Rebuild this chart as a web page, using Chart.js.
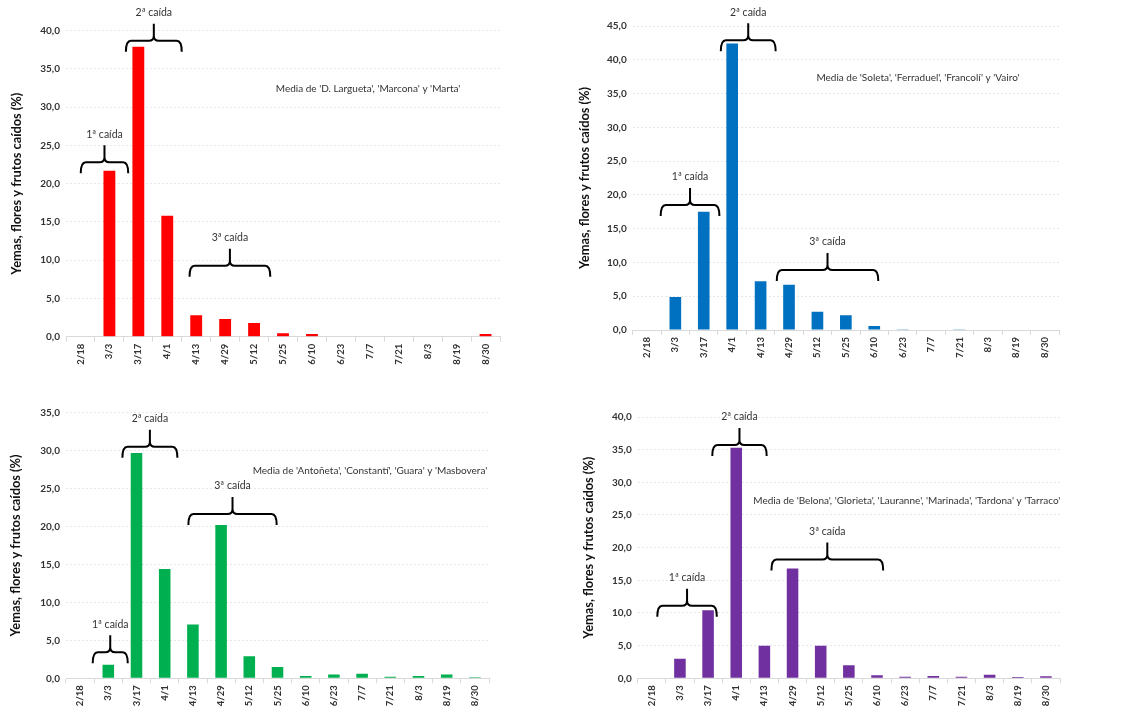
<!DOCTYPE html>
<html>
<head>
<meta charset="utf-8">
<script src="https://cdn.jsdelivr.net/npm/chart.js@4"></script>
<style>
  body { margin: 0; background: #fff; }
  #wrap { position: relative; width: 1127px; height: 721px; }
  canvas { position: absolute; }
</style>
</head>
<body>
<div id="wrap">
  <canvas id="c1"></canvas>
  <canvas id="c2"></canvas>
  <canvas id="c3"></canvas>
  <canvas id="c4"></canvas>
</div>
<script>
// fechas de muestreo
const fechas = ['2/18', '3/3', '3/17', '4/1', '4/13', '4/29', '5/12', '5/25', '6/10', '6/23', '7/7', '7/21', '8/3', '8/19', '8/30'];

// % caída por grupo de variedades
const grupo1 = [0, 21.7, 37.9, 15.8, 2.8, 2.3, 1.8, 0.45, 0.35, 0, 0, 0, 0, 0, 0.35];
const grupo2 = [0, 4.9, 17.5, 42.4, 7.2, 6.7, 2.7, 2.2, 0.6, 0.1, 0, 0.05, 0, 0, 0];
const grupo3 = [0, 1.8, 29.7, 14.4, 7.1, 20.2, 2.9, 1.5, 0.3, 0.5, 0.6, 0.2, 0.3, 0.5, 0.13];
const grupo4 = [0, 3.0, 10.4, 35.3, 5.0, 16.8, 5.0, 2.0, 0.45, 0.25, 0.35, 0.25, 0.55, 0.2, 0.3];

const yMaximos = [40, 45, 35, 40];
const notas = [
  "Media de 'D. Largueta', 'Marcona' y 'Marta'",
  "Media de 'Soleta', 'Ferraduel', 'Francolí' y 'Vairo'",
  "Media de 'Antoñeta', 'Constantí', 'Guara' y 'Masbovera'",
  "Media de 'Belona', 'Glorieta', 'Lauranne', 'Marinada', 'Tardona' y 'Tarraco'"
];
const caidas = ['1ª caída', '2ª caída', '3ª caída'];
const tituloY = 'Yemas, flores y frutos caídos (%)';

Chart.defaults.font.family = 'Lato, "Open Sans", sans-serif';

// llaves: [desde, hasta, y] en índice de categoría / valor
const paneles = [
  { id: 'c1', left: 0, top: 0, w: 520, h: 372, datos: grupo1, color: '#FF0000',
    padTop: 30.7, padRight: 20, yW: 66, xH: 35.3, titPad: 10,
    nota: [9.94, 32.4],
    llaves: [[0.01, 1.65, 22.8], [1.57, 3.5, 38.7], [3.77, 6.56, 9.28]] },
  { id: 'c2', left: 560, top: 0, w: 567, h: 372, datos: grupo2, color: '#0070C0',
    padTop: 26, padRight: 68, yW: 72.7, xH: 42, titPad: 18,
    nota: [9.54, 37.4],
    llaves: [[0.485, 2.55, 18.5], [2.6, 4.53, 42.9], [4.57, 8.14, 8.9]] },
  { id: 'c3', left: 0, top: 360, w: 520, h: 361, datos: grupo3, color: '#00B050',
    padTop: 52.7, padRight: 31, yW: 66, xH: 42.7, titPad: 9,
    nota: [10.28, 27.35],
    llaves: [[0.447, 1.69, 3.43], [1.5, 3.45, 30.5], [3.84, 6.97, 21.65]] },
  { id: 'c4', left: 560, top: 360, w: 567, h: 361, datos: grupo4, color: '#7030A0',
    padTop: 57, padRight: 67, yW: 77.7, xH: 42.7, titPad: 22,
    nota: [9.06, 27.15],
    llaves: [[0.196, 2.31, 11.1], [2.15, 4.08, 35.7], [4.25, 8.22, 18.2]] }
];

// dibuja las llaves y los textos
const anotaciones = {
  id: 'anotaciones',
  afterDatasetsDraw(chart, args, opts) {
    const p = opts.panel;
    const ctx = chart.ctx;
    const xs = chart.scales.x, ys = chart.scales.y;
    ctx.save();
    ctx.strokeStyle = '#000';
    ctx.lineWidth = 2;
    ctx.fillStyle = '#333';
    ctx.font = '10.5px Lato, "Open Sans", sans-serif';
    ctx.textAlign = 'center';
    ctx.textBaseline = 'middle';
    p.llaves.forEach((l, i) => {
      const x0 = xs.getPixelForValue(l[0]);
      const x1 = xs.getPixelForValue(l[1]);
      const y = ys.getPixelForValue(l[2]);
      const xm = (x0 + x1) / 2;
      const r = 5, caida = 11, punta = 17;
      ctx.beginPath();
      ctx.moveTo(x0, y + caida);
      ctx.quadraticCurveTo(x0, y, x0 + r, y);
      ctx.lineTo(xm - r, y);
      ctx.quadraticCurveTo(xm, y, xm, y - r);
      ctx.lineTo(xm, y - punta);
      ctx.moveTo(xm, y - r);
      ctx.quadraticCurveTo(xm, y, xm + r, y);
      ctx.lineTo(x1 - r, y);
      ctx.quadraticCurveTo(x1, y, x1, y + caida);
      ctx.stroke();
      ctx.fillText(caidas[i], xm, y - punta - 11);
    });
    ctx.font = '10px Lato, "Open Sans", sans-serif';
    ctx.fillText(p.texto, xs.getPixelForValue(p.nota[0]), ys.getPixelForValue(p.nota[1]));
    ctx.restore();
  }
};

paneles.forEach((p, k) => {
  p.texto = notas[k];
  const cv = document.getElementById(p.id);
  cv.width = p.w; cv.height = p.h;
  cv.style.left = p.left + 'px';
  cv.style.top = p.top + 'px';
  new Chart(cv, {
    type: 'bar',
    data: {
      labels: fechas,
      datasets: [{
        data: p.datos,
        backgroundColor: p.color,
        barPercentage: 0.41,
        categoryPercentage: 1
      }]
    },
    options: {
      responsive: false,
      animation: false,
      layout: { padding: { top: p.padTop, right: p.padRight, left: 0, bottom: 0 } },
      plugins: {
        legend: { display: false },
        tooltip: { enabled: false },
        anotaciones: { panel: p }
      },
      scales: {
        x: {
          afterFit: s => { s.height = p.xH; },
          grid: { drawOnChartArea: false, drawTicks: true, tickLength: 5, color: '#d9d9d9', offset: true },
          border: { color: '#d9d9d9' },
          ticks: {
            minRotation: 90, maxRotation: 90, autoSkip: false, padding: 2,
            color: '#333', font: { size: 9.5, weight: 'bold' }
          }
        },
        y: {
          min: 0, max: yMaximos[k],
          afterFit: s => { s.width = p.yW; },
          grid: { color: '#e6e6e6', drawTicks: false },
          border: { display: false, dash: [2, 2] },
          ticks: {
            stepSize: 5, padding: 6, color: '#333',
            font: { size: 10, weight: 'bold' },
            callback: v => v.toFixed(1).replace('.', ',')
          },
          title: {
            display: true, text: tituloY, color: '#111',
            font: { size: 12.8, weight: 'bold', lineHeight: 1 },
            padding: { top: p.titPad, bottom: 0 }
          }
        }
      }
    },
    plugins: [anotaciones]
  });
});
</script>
</body>
</html>
